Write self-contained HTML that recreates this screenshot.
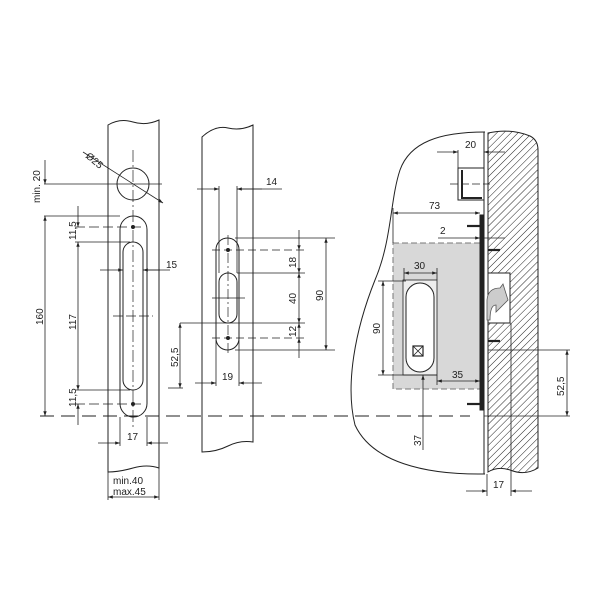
<!DOCTYPE html>
<html><head><meta charset="utf-8"><style>body{margin:0;background:#fff}svg{display:block}text{font-family:"Liberation Sans",sans-serif;font-size:10px;fill:#222}</style></head><body>
<svg width="600" height="600" viewBox="0 0 600 600" xmlns="http://www.w3.org/2000/svg">
<defs>
<marker id="a" viewBox="0 0 10 10" refX="10" refY="5" markerWidth="9" markerHeight="6" orient="auto-start-reverse"><path d="M0,1.5 L10,5 L0,8.5z" fill="#222" stroke="none"/></marker>
<pattern id="h" width="5" height="5" patternUnits="userSpaceOnUse" patternTransform="rotate(45)"><line x1="0" y1="0" x2="0" y2="5" stroke="#222" stroke-width="1"/></pattern>
</defs>
<g stroke="#222" stroke-width="1" fill="none">
<!-- LEFT DOOR -->
<path d="M108,125 Q120,118 133,122 T159,120 L159,468 Q147,464 133,468 T108,472 Z"/>
<circle cx="133" cy="184" r="16"/>
<rect x="120" y="216" width="27" height="201" rx="13.5"/>
<rect x="123" y="242" width="20" height="148" rx="10"/>
<circle cx="133" cy="227" r="1.5" fill="#222"/><circle cx="133" cy="404" r="1.5" fill="#222"/>
<line x1="133" y1="150" x2="133" y2="430" stroke-dasharray="12,3,2,3" stroke-width="0.7"/>
<line x1="113" y1="316" x2="153" y2="316" stroke-width="0.7" stroke-dasharray="10,3"/>
<line x1="40" y1="416" x2="470" y2="416" stroke-dasharray="14,7"/>
<line x1="83" y1="152" x2="163" y2="203" marker-end="url(#a)" stroke-width="0.8"/>
<line x1="44" y1="184" x2="162" y2="184" stroke-width="0.8"/>
<line x1="44" y1="216" x2="120" y2="216" stroke-width="0.8"/>
<line x1="45" y1="160" x2="45" y2="184" marker-end="url(#a)" stroke-width="0.8"/>
<line x1="45" y1="216" x2="45" y2="416" marker-start="url(#a)" marker-end="url(#a)" stroke-width="0.8"/>
<line x1="78" y1="206" x2="78" y2="227" marker-end="url(#a)" stroke-width="0.8"/>
<line x1="78" y1="242" x2="78" y2="390" marker-start="url(#a)" marker-end="url(#a)" stroke-width="0.8"/>
<line x1="78" y1="404" x2="78" y2="425" marker-start="url(#a)" stroke-width="0.8"/>
<line x1="75" y1="227" x2="145" y2="227" stroke-width="0.8" stroke-dasharray="10,4"/>
<line x1="75" y1="242" x2="130" y2="242" stroke-width="0.8"/>
<line x1="75" y1="390" x2="130" y2="390" stroke-width="0.8"/>
<line x1="75" y1="404" x2="145" y2="404" stroke-width="0.8" stroke-dasharray="10,4"/>
<line x1="100" y1="270" x2="123" y2="270" marker-end="url(#a)" stroke-width="0.8"/>
<line x1="143" y1="270" x2="160" y2="270" stroke-width="0.8"/>
<line x1="170" y1="270" x2="143" y2="270" marker-end="url(#a)" stroke-width="0.8"/>
<line x1="120" y1="417" x2="120" y2="446" stroke-width="0.8"/><line x1="147" y1="417" x2="147" y2="446" stroke-width="0.8"/>
<line x1="98" y1="443" x2="120" y2="443" marker-end="url(#a)" stroke-width="0.8"/>
<line x1="168" y1="443" x2="147" y2="443" marker-end="url(#a)" stroke-width="0.8"/>
<line x1="108" y1="472" x2="108" y2="500" stroke-width="0.8"/><line x1="159" y1="468" x2="159" y2="500" stroke-width="0.8"/>
<line x1="108" y1="497" x2="159" y2="497" marker-start="url(#a)" marker-end="url(#a)" stroke-width="0.8"/>
<!-- MIDDLE DOOR -->
<path d="M202,137 Q215,125 228,128 T253,125 L253,442 Q240,440 228,446 T202,452 Z"/>
<rect x="216" y="238" width="23" height="112" rx="11.5"/>
<rect x="219" y="273" width="18" height="50" rx="9"/>
<circle cx="228" cy="250" r="1.5" fill="#222"/><circle cx="228" cy="338" r="1.5" fill="#222"/>
<line x1="228" y1="235" x2="228" y2="355" stroke-dasharray="10,3,2,3" stroke-width="0.7"/>
<line x1="212" y1="298" x2="245" y2="298" stroke-width="0.7"/>
<line x1="219" y1="186" x2="219" y2="273" stroke-width="0.8"/><line x1="237" y1="186" x2="237" y2="273" stroke-width="0.8"/>
<line x1="197" y1="189" x2="219" y2="189" marker-end="url(#a)" stroke-width="0.8"/>
<line x1="237" y1="189" x2="282" y2="189" stroke-width="0.8"/>
<line x1="262" y1="189" x2="237" y2="189" marker-end="url(#a)" stroke-width="0.8"/>
<g stroke-width="0.8">
<line x1="235" y1="238" x2="335" y2="238"/><line x1="212" y1="250" x2="305" y2="250" stroke-dasharray="8,4"/>
<line x1="237" y1="273" x2="305" y2="273"/><line x1="180" y1="323" x2="305" y2="323"/>
<line x1="212" y1="338" x2="305" y2="338" stroke-dasharray="8,4"/><line x1="235" y1="350" x2="335" y2="350"/>
<line x1="299" y1="230" x2="299" y2="250" marker-end="url(#a)"/>
<line x1="299" y1="250" x2="299" y2="273" marker-end="url(#a)"/>
<line x1="299" y1="273" x2="299" y2="323" marker-start="url(#a)" marker-end="url(#a)"/>
<line x1="299" y1="323" x2="299" y2="338" marker-start="url(#a)"/>
<line x1="299" y1="358" x2="299" y2="338" marker-end="url(#a)"/>
<line x1="326" y1="238" x2="326" y2="350" marker-start="url(#a)" marker-end="url(#a)"/>
<line x1="180" y1="323" x2="180" y2="388" marker-start="url(#a)" marker-end="url(#a)"/>
<line x1="168" y1="388" x2="183" y2="388"/>
<line x1="216" y1="340" x2="216" y2="386"/><line x1="239" y1="340" x2="239" y2="386"/>
<line x1="195" y1="383" x2="216" y2="383" marker-end="url(#a)"/>
<line x1="262" y1="383" x2="239" y2="383" marker-end="url(#a)"/>
</g>
<!-- RIGHT VIEW -->
<path d="M485,132 C440,132 410,142 400,170 C390,200 392,240 375,280 C355,330 345,385 355,425 C372,462 425,475 485,474"/>
<path d="M488,133 Q510,128 530,136 Q538,140 538,150 L538,468 Q525,476 510,470 Q498,466 488,472 Z" fill="url(#h)"/>
<rect x="488" y="273" width="22" height="50" fill="#fff"/>
<rect x="393" y="243" width="89" height="146" fill="#d8d8d8" stroke="#777" stroke-dasharray="6,3"/>
<rect x="403" y="280" width="34" height="95" fill="#eee" stroke="#222" stroke-width="0.8"/>
<rect x="406" y="283" width="28" height="89" rx="14" fill="#fff"/>
<rect x="413" y="346" width="10" height="10" stroke-width="1.2"/><path d="M413,346 L423,356 M423,346 L413,356" stroke-width="0.8"/>
<rect x="480" y="215" width="3" height="195" fill="#222"/>
<line x1="484" y1="132" x2="484" y2="474"/>
<path d="M458,168 L484,168 L484,200 L458,200 Z" fill="#fff"/>
<path d="M462,170 L462,198 L482,198" stroke-width="2"/>
<line x1="450" y1="184" x2="490" y2="184" stroke-dasharray="8,3" stroke-width="0.7"/>
<path d="M487,300 Q488,288 500,288 L503,284 L508,300 L496,312 L496,305 Q490,305 490,320 L487,320 Z" fill="#ccc" stroke="#555" stroke-width="0.8"/>
<g stroke-width="2.2"><line x1="467" y1="226" x2="480" y2="226"/><line x1="488" y1="250" x2="500" y2="250"/><line x1="488" y1="341" x2="500" y2="341"/><line x1="467" y1="404" x2="480" y2="404"/></g>
<g stroke-width="0.8">
<line x1="458" y1="150" x2="458" y2="168"/>
<line x1="437" y1="152" x2="458" y2="152" marker-end="url(#a)"/>
<line x1="505" y1="152" x2="484" y2="152" marker-end="url(#a)"/>
<line x1="393" y1="208" x2="393" y2="243"/>
<line x1="393" y1="213" x2="480" y2="213" marker-start="url(#a)" marker-end="url(#a)"/>
<line x1="438" y1="238" x2="480" y2="238" marker-end="url(#a)"/>
<line x1="505" y1="238" x2="484" y2="238"/>
<line x1="404" y1="268" x2="404" y2="280"/><line x1="437" y1="268" x2="437" y2="280"/>
<line x1="404" y1="273" x2="437" y2="273" marker-start="url(#a)" marker-end="url(#a)"/>
<line x1="378" y1="281" x2="406" y2="281"/><line x1="378" y1="375" x2="437" y2="375"/>
<line x1="383" y1="281" x2="383" y2="375" marker-start="url(#a)" marker-end="url(#a)"/>
<line x1="437" y1="375" x2="437" y2="385"/>
<line x1="437" y1="381" x2="480" y2="381" marker-start="url(#a)" marker-end="url(#a)"/>
<line x1="423" y1="450" x2="423" y2="375" marker-end="url(#a)"/>
<line x1="488" y1="350" x2="570" y2="350"/><line x1="484" y1="416" x2="570" y2="416"/>
<line x1="567" y1="350" x2="567" y2="416" marker-start="url(#a)" marker-end="url(#a)"/>
<line x1="511" y1="323" x2="511" y2="496"/><line x1="487" y1="474" x2="487" y2="496"/>
<line x1="466" y1="491" x2="487" y2="491" marker-end="url(#a)"/>
<line x1="532" y1="491" x2="511" y2="491" marker-end="url(#a)"/>
</g>
</g>
<g>
<text x="85" y="157" transform="rotate(40 85 157)">Ø25</text>
<text x="40" y="203" transform="rotate(-90 40 203)">min. 20</text>
<text x="43" y="325" transform="rotate(-90 43 325)">160</text>
<text x="76" y="330" transform="rotate(-90 76 330)">117</text>
<text x="76" y="240" transform="rotate(-90 76 240)">11,5</text>
<text x="76" y="407" transform="rotate(-90 76 407)">11,5</text>
<text x="166" y="268">15</text>
<text x="127" y="440">17</text>
<text x="113" y="484">min.40</text>
<text x="113" y="495">max.45</text>
<text x="266" y="185">14</text>
<text x="296" y="268" transform="rotate(-90 296 268)">18</text>
<text x="296" y="304" transform="rotate(-90 296 304)">40</text>
<text x="296" y="337" transform="rotate(-90 296 337)">12</text>
<text x="323" y="301" transform="rotate(-90 323 301)">90</text>
<text x="178" y="367" transform="rotate(-90 178 367)">52,5</text>
<text x="222" y="380">19</text>
<text x="465" y="148">20</text>
<text x="429" y="209">73</text>
<text x="440" y="234">2</text>
<text x="414" y="269">30</text>
<text x="380" y="334" transform="rotate(-90 380 334)">90</text>
<text x="452" y="378">35</text>
<text x="421" y="446" transform="rotate(-90 421 446)">37</text>
<text x="564" y="396" transform="rotate(-90 564 396)">52,5</text>
<text x="493" y="488">17</text>
</g>
</svg>
</body></html>
